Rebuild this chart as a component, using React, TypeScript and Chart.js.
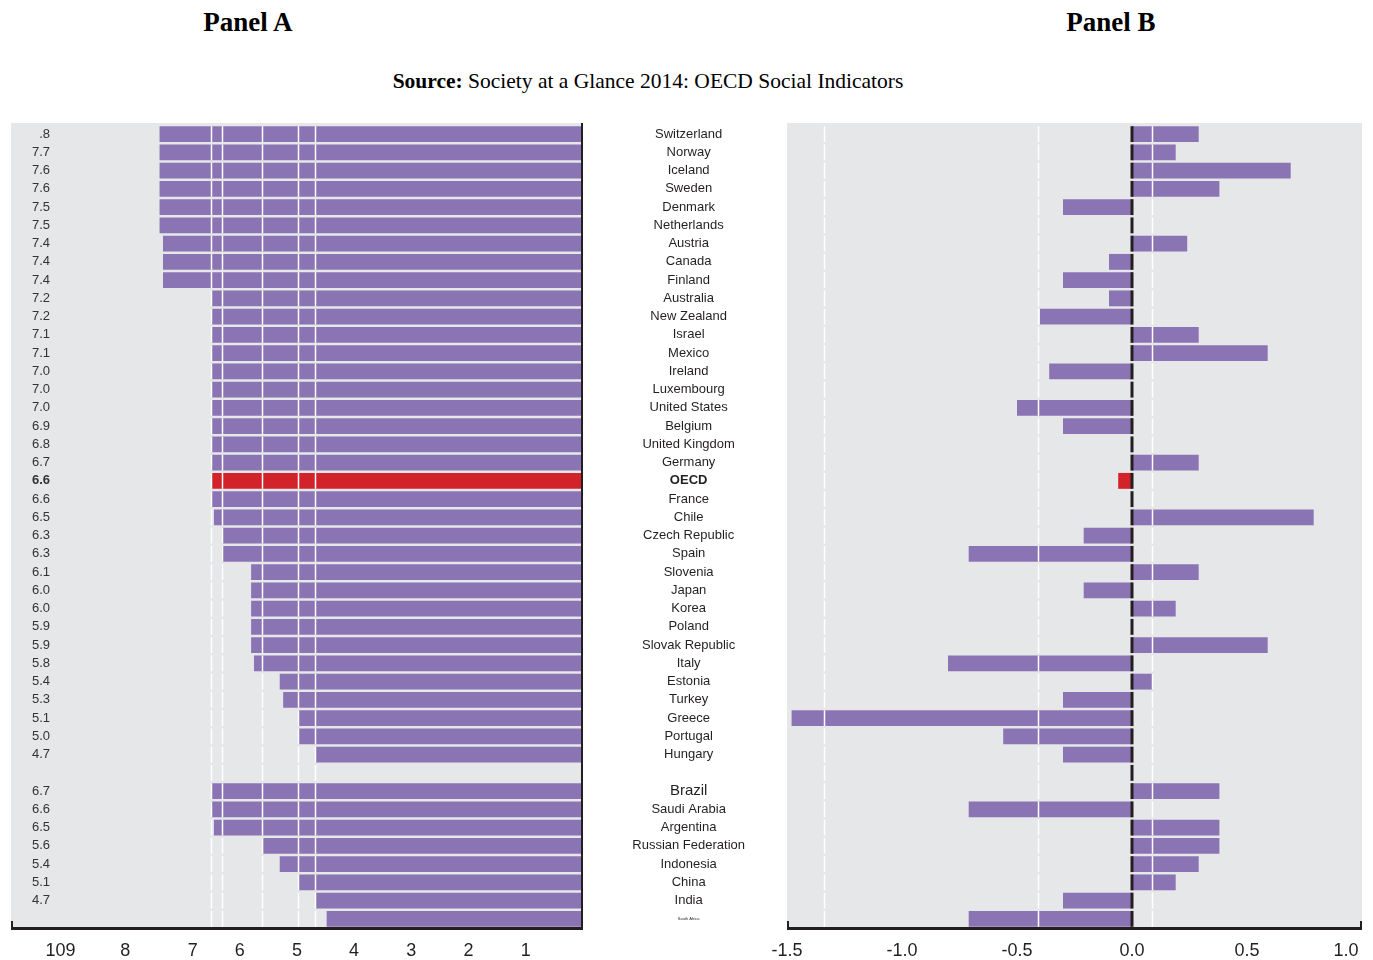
import React, { useEffect, useRef } from "react";
import { Chart, registerables } from "chart.js";

Chart.register(...registerables);

// ---------- data ----------
const countries = [
  "Switzerland", "Norway", "Iceland", "Sweden", "Denmark", "Netherlands", "Austria", "Canada",
  "Finland", "Australia", "New Zealand", "Israel", "Mexico", "Ireland", "Luxembourg",
  "United States", "Belgium", "United Kingdom", "Germany", "OECD", "France", "Chile",
  "Czech Republic", "Spain", "Slovenia", "Japan", "Korea", "Poland", "Slovak Republic", "Italy",
  "Estonia", "Turkey", "Greece", "Portugal", "Hungary", "",
  "Brazil", "Saudi Arabia", "Argentina", "Russian Federation", "Indonesia", "China", "India",
  "South Africa",
];

// Panel A value labels as printed on the left
const scoreLabels = [
  ".8", "7.7", "7.6", "7.6", "7.5", "7.5", "7.4", "7.4", "7.4", "7.2", "7.2", "7.1", "7.1",
  "7.0", "7.0", "7.0", "6.9", "6.8", "6.7", "6.6", "6.6", "6.5", "6.3", "6.3", "6.1", "6.0",
  "6.0", "5.9", "5.9", "5.8", "5.4", "5.3", "5.1", "5.0", "4.7", "",
  "6.7", "6.6", "6.5", "5.6", "5.4", "5.1", "4.7", "",
];

// Panel A bar lengths as drawn
const panelAValues = [
  7.4, 7.4, 7.4, 7.4, 7.4, 7.4, 7.34, 7.34, 7.34, 6.5, 6.5, 6.5, 6.5, 6.5, 6.5, 6.5, 6.5,
  6.5, 6.5, 6.5, 6.5, 6.45, 6.31, 6.31, 5.8, 5.8, 5.8, 5.8, 5.8, 5.75, 5.3, 5.24, 4.97, 4.97,
  4.67, 0,
  6.5, 6.5, 6.45, 5.59, 5.3, 4.97, 4.67, 4.48,
];

// Panel B bar values
const panelBValues = [
  0.29, 0.19, 0.69, 0.38, -0.3, 0, 0.24, -0.1, -0.3, -0.1, -0.4, 0.29, 0.59, -0.36, 0,
  -0.5, -0.3, 0, 0.29, -0.06, 0, 0.79, -0.21, -0.71, 0.29, -0.21, 0.19, 0, 0.59, -0.8,
  0.09, -0.3, -1.48, -0.56, -0.3, 0,
  0.38, -0.71, 0.38, 0.38, 0.29, 0.19, -0.3, -0.71,
];

const panelAMax = 9.21;
const panelATickValues = [1, 2, 3, 4, 5, 6, 6.82, 8, 9.13];
const panelATickLabels = ["1", "2", "3", "4", "5", "6", "7", "8", "109"];
const panelAGuides = [6.5, 6.31, 5.61, 4.98, 4.69];

const panelBMin = -1.5;
const panelBMax = 1.0;
const panelBTickValues = [-1.5, -1.0, -0.5, 0, 0.5, 0.93];
const panelBTickLabels = ["-1.5", "-1.0", "-0.5", "0.0", "0.5", "1.0"];
const panelBGuides = [-1.339, -0.409, 0.087];

// ---------- styles ----------
const PURPLE = "#8b74b4";
const RED = "#d2232a";
const BG = "#e6e7e9";
const INK = "#231f20";
const SANS = "'Liberation Sans', Arial, sans-serif";
const SERIF = "'Liberation Serif', 'Times New Roman', serif";
const BAR_FRAC = 0.87;
const OECD_INDEX = countries.indexOf("OECD");

const barColors = countries.map((c) => (c === "OECD" ? RED : PURPLE));

const framePlugin = {
  id: "frame",
  beforeDraw(chart: any, _a: any, opts: any) {
    const { ctx, chartArea } = chart;
    const left = opts.fullLeft ? 0 : chartArea.left;
    ctx.save();
    ctx.fillStyle = BG;
    ctx.fillRect(left, 0, chartArea.right - left, chartArea.bottom);
    ctx.restore();
  },
  afterDatasetsDraw(chart: any, _a: any, opts: any) {
    const { ctx, chartArea, scales } = chart;
    const x = scales.x;
    const y = scales.y;
    const n = chart.data.labels.length;
    const step = (y.bottom - y.top) / n;
    const half = (step * BAR_FRAC) / 2;
    ctx.save();
    ctx.strokeStyle = "#ffffff";
    ctx.lineWidth = 1.5;
    for (const g of opts.guides || []) {
      const px = Math.round(x.getPixelForValue(g)) + 0.5;
      for (let i = 0; i < n; i++) {
        const cy = y.getPixelForValue(i);
        ctx.beginPath();
        ctx.moveTo(px, cy - half);
        ctx.lineTo(px, cy + half);
        ctx.stroke();
      }
    }
    ctx.fillStyle = INK;
    if (opts.zeroDashed) {
      const px = x.getPixelForValue(0);
      for (let i = 0; i < n; i++) {
        const cy = y.getPixelForValue(i);
        ctx.fillRect(px - 1.5, cy - half, 3, half * 2);
      }
    } else {
      ctx.fillRect(chartArea.right - 2, 0, 2, chartArea.bottom);
    }
    const left = opts.fullLeft ? 0 : chartArea.left;
    ctx.fillRect(left, chartArea.bottom - 1, chartArea.right - left, 3);
    ctx.fillRect(left, chartArea.bottom - 7, 2, 7);
    ctx.fillRect(chartArea.right - 2, chartArea.bottom - 7, 2, 7);
    ctx.restore();
  },
};

const noPadding = (s: any) => {
  s.paddingTop = 0;
  s.paddingBottom = 0;
  s.paddingLeft = 0;
  s.paddingRight = 0;
};

function usePanel(ref: React.RefObject<HTMLCanvasElement>, build: () => any) {
  useEffect(() => {
    if (!ref.current) return;
    const chart = new Chart(ref.current, build());
    return () => chart.destroy();
  }, []);
}

function PanelA() {
  const ref = useRef<HTMLCanvasElement>(null);
  usePanel(ref, () => ({
    type: "bar",
    data: {
      labels: countries,
      datasets: [
        {
          data: panelAValues,
          backgroundColor: barColors,
          borderWidth: 0,
          barPercentage: BAR_FRAC,
          categoryPercentage: 1,
        },
      ],
    },
    plugins: [framePlugin],
    options: {
      indexAxis: "y",
      animation: false,
      responsive: false,
      layout: { padding: { top: 2, right: 8, bottom: 0, left: 0 } },
      plugins: {
        legend: { display: false },
        tooltip: { enabled: false },
        frame: { fullLeft: true, guides: panelAGuides, zeroDashed: false },
      },
      scales: {
        x: {
          type: "linear",
          reverse: true,
          min: 0,
          max: panelAMax,
          grid: { display: false, drawTicks: false },
          border: { display: false },
          afterBuildTicks: (s: any) => {
            s.ticks = panelATickValues.map((v) => ({ value: v }));
          },
          afterFit: (s: any) => {
            s.height = 32;
            noPadding(s);
          },
          ticks: {
            autoSkip: false,
            maxRotation: 0,
            padding: 12,
            color: INK,
            font: { family: SANS, size: 18 },
            callback: (_v: any, i: number) => panelATickLabels[i],
          },
        },
        y: {
          type: "category",
          position: "left",
          grid: { display: false, drawTicks: false },
          border: { display: false },
          afterFit: (s: any) => {
            s.width = 45;
            noPadding(s);
          },
          ticks: {
            autoSkip: false,
            padding: 6,
            color: "#333333",
            font: (c: any) => ({
              family: SANS,
              size: c.index === countries.length - 1 ? 4 : 13,
              weight: c.index === OECD_INDEX ? "bold" : "normal",
            }),
            callback: (_v: any, i: number) => scoreLabels[i],
          },
        },
      },
    },
  }));
  return (
    <canvas
      ref={ref}
      width={580}
      height={837}
      style={{ position: "absolute", left: 11, top: 123, width: 580, height: 837 }}
    />
  );
}

function PanelB() {
  const ref = useRef<HTMLCanvasElement>(null);
  usePanel(ref, () => ({
    type: "bar",
    data: {
      labels: countries,
      datasets: [
        {
          data: panelBValues,
          backgroundColor: barColors,
          borderWidth: 0,
          barPercentage: BAR_FRAC,
          categoryPercentage: 1,
        },
      ],
    },
    plugins: [framePlugin],
    options: {
      indexAxis: "y",
      animation: false,
      responsive: false,
      layout: { padding: { top: 2, right: 11, bottom: 0, left: 0 } },
      plugins: {
        legend: { display: false },
        tooltip: { enabled: false },
        frame: { fullLeft: false, guides: panelBGuides, zeroDashed: true },
      },
      scales: {
        x: {
          type: "linear",
          min: panelBMin,
          max: panelBMax,
          grid: { display: false, drawTicks: false },
          border: { display: false },
          afterBuildTicks: (s: any) => {
            s.ticks = panelBTickValues.map((v) => ({ value: v }));
          },
          afterFit: (s: any) => {
            s.height = 32;
            noPadding(s);
          },
          ticks: {
            autoSkip: false,
            maxRotation: 0,
            padding: 12,
            color: INK,
            font: { family: SANS, size: 18 },
            callback: (_v: any, i: number) => panelBTickLabels[i],
          },
        },
        y: {
          type: "category",
          position: "left",
          grid: { display: false, drawTicks: false },
          border: { display: false },
          afterFit: (s: any) => {
            s.width = 204;
            noPadding(s);
          },
          ticks: {
            autoSkip: false,
            crossAlign: "center",
            padding: 42,
            color: INK,
            font: (c: any) => ({
              family: SANS,
              size:
                c.index === countries.length - 1
                  ? 4
                  : countries[c.index] === "Brazil"
                  ? 15
                  : 13,
              weight: c.index === OECD_INDEX ? "bold" : "normal",
            }),
          },
        },
      },
    },
  }));
  return (
    <canvas
      ref={ref}
      width={790}
      height={837}
      style={{ position: "absolute", left: 583, top: 123, width: 790, height: 837 }}
    />
  );
}

const titleStyle = (left: number): React.CSSProperties => ({
  position: "absolute",
  left,
  top: 7,
  width: 200,
  textAlign: "center",
  fontFamily: SERIF,
  fontWeight: "bold",
  fontSize: 27,
  lineHeight: "30px",
  color: "#000",
});

export default function App() {
  return (
    <div
      style={{
        position: "absolute",
        left: 0,
        top: 0,
        width: 1373,
        height: 960,
        background: "#fff",
        overflow: "hidden",
      }}
    >
      <div style={titleStyle(148)}>Panel A</div>
      <div style={titleStyle(1011)}>Panel B</div>
      <div
        style={{
          position: "absolute",
          left: 0,
          top: 68,
          width: 1296,
          textAlign: "center",
          fontFamily: SERIF,
          fontSize: 21.5,
          lineHeight: "26px",
          color: "#000",
        }}
      >
        <b>Source:</b> Society at a Glance 2014: OECD Social Indicators
      </div>
      <PanelA />
      <PanelB />
    </div>
  );
}
